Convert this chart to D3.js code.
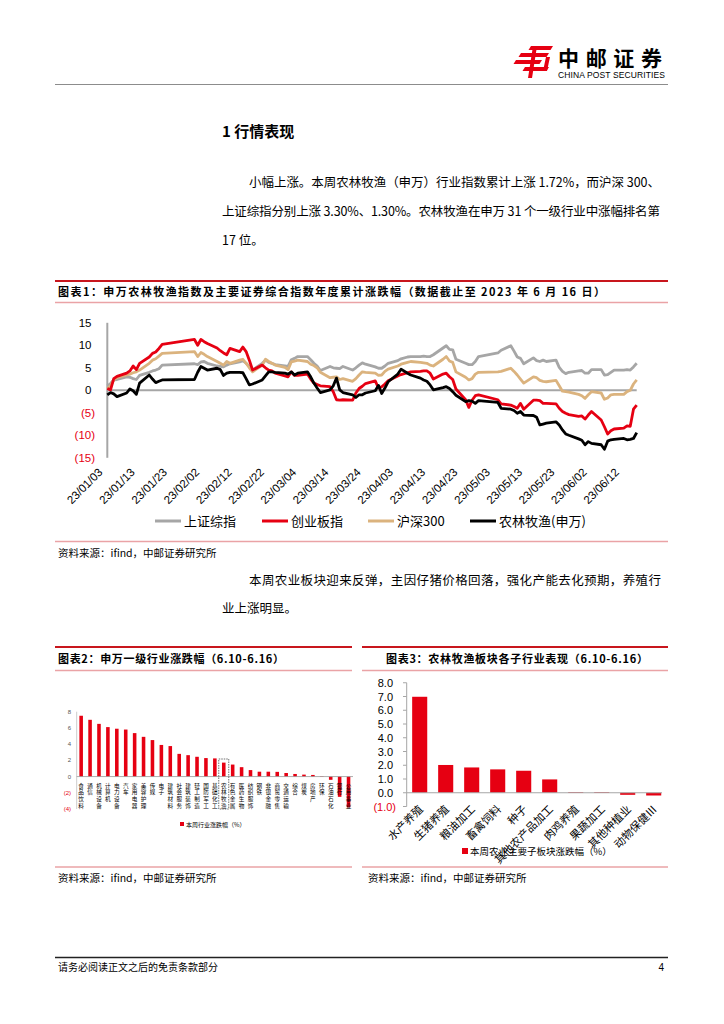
<!DOCTYPE html>
<html><head><meta charset="utf-8">
<script src="https://cdn.jsdelivr.net/npm/d3@7"></script>
<style>
html,body{margin:0;padding:0;background:#fff;}
svg{display:block;}
text{font-family:"Liberation Sans","Noto Sans CJK SC",sans-serif;}
</style></head><body>
<svg id="page" width="724" height="1024"></svg>
<script>
// ---------------- DATA ----------------
const tradeDates = [
"2023-01-03","2023-01-04","2023-01-05","2023-01-06","2023-01-09","2023-01-10","2023-01-11","2023-01-12","2023-01-13","2023-01-16","2023-01-17","2023-01-18","2023-01-19","2023-01-20","2023-01-30","2023-01-31",
"2023-02-01","2023-02-02","2023-02-03","2023-02-06","2023-02-07","2023-02-08","2023-02-09","2023-02-10","2023-02-13","2023-02-14","2023-02-15","2023-02-16","2023-02-17","2023-02-20","2023-02-21","2023-02-22","2023-02-23","2023-02-24","2023-02-27","2023-02-28",
"2023-03-01","2023-03-02","2023-03-03","2023-03-06","2023-03-07","2023-03-08","2023-03-09","2023-03-10","2023-03-13","2023-03-14","2023-03-15","2023-03-16","2023-03-17","2023-03-20","2023-03-21","2023-03-22","2023-03-23","2023-03-24","2023-03-27","2023-03-28","2023-03-29","2023-03-30","2023-03-31",
"2023-04-03","2023-04-04","2023-04-06","2023-04-07","2023-04-10","2023-04-11","2023-04-12","2023-04-13","2023-04-14","2023-04-17","2023-04-18","2023-04-19","2023-04-20","2023-04-21","2023-04-24","2023-04-25","2023-04-26","2023-04-27","2023-04-28",
"2023-05-04","2023-05-05","2023-05-08","2023-05-09","2023-05-10","2023-05-11","2023-05-12","2023-05-15","2023-05-16","2023-05-17","2023-05-18","2023-05-19","2023-05-22","2023-05-23","2023-05-24","2023-05-25","2023-05-26","2023-05-29","2023-05-30","2023-05-31",
"2023-06-01","2023-06-02","2023-06-05","2023-06-06","2023-06-07","2023-06-08","2023-06-09","2023-06-12","2023-06-13","2023-06-14","2023-06-15","2023-06-16"];

const shComposite = [
1.0,1.5,2.3,2.4,3.0,2.9,2.6,2.4,3.3,4.0,4.3,4.5,4.8,5.6,5.9,5.7,
6.3,6.4,6.0,5.4,5.3,5.2,5.6,5.9,6.3,6.6,6.0,5.3,4.5,6.0,6.7,6.2,6.0,5.7,5.4,5.3,
6.8,7.1,7.5,7.5,6.8,6.0,5.4,4.4,5.3,5.0,4.9,4.8,5.3,4.5,5.0,5.6,6.1,5.8,5.2,4.9,4.9,5.4,6.0,
6.6,7.0,7.4,7.5,7.5,7.6,7.5,7.5,7.9,9.4,9.9,9.1,9.0,6.9,6.0,5.7,5.7,6.4,7.5,
8.3,8.9,9.9,8.7,7.4,7.1,5.9,7.2,6.6,6.4,6.7,6.4,6.7,5.1,4.2,3.7,4.0,4.3,4.4,3.8,
3.8,4.6,4.6,3.4,3.5,4.0,4.5,4.5,4.6,4.5,5.2,6.0];

const chinext = [
0.4,0.1,2.6,3.1,3.8,4.3,5.4,4.6,6.0,7.4,8.2,8.5,9.3,10.2,11.3,10.0,
11.3,10.8,10.4,9.4,8.8,8.3,7.9,9.3,8.6,9.6,8.6,6.7,4.5,5.6,5.0,4.5,4.3,3.8,3.2,3.0,
4.1,3.3,3.3,3.6,2.5,1.6,1.3,1.0,0.8,-0.3,-2.1,-2.2,-2.1,-2.2,-0.6,0.4,0.9,1.5,2.1,0.5,0.8,1.4,2.1,
3.2,3.5,3.9,4.1,4.2,4.3,4.3,3.8,2.5,3.6,3.8,3.0,2.4,0.3,-2.1,-3.8,-2.2,-1.2,-1.0,
-2.1,-3.0,-3.3,-3.6,-4.0,-2.9,-4.2,-2.2,-2.2,-2.3,-2.9,-2.9,-3.0,-4.0,-4.7,-5.1,-5.4,-5.8,-5.7,-6.4,
-5.5,-4.7,-6.6,-8.1,-9.7,-9.0,-8.6,-8.4,-7.9,-8.0,-4.2,-3.3];

const csi300 = [
0.3,1.0,2.3,2.8,3.4,3.6,3.9,4.1,4.5,6.0,6.7,7.0,7.6,8.2,8.6,7.5,
8.4,8.0,7.5,6.4,6.0,5.6,6.4,6.0,6.7,6.9,6.0,5.0,4.1,5.6,6.9,6.4,6.0,5.6,5.1,4.6,
6.3,6.5,6.7,6.4,5.8,5.5,5.0,4.0,2.8,2.9,3.0,2.4,2.6,2.0,2.6,3.4,4.1,4.0,3.8,3.3,3.4,4.2,4.7,
5.4,5.8,6.2,6.4,6.2,6.1,6.0,5.6,5.4,6.9,7.5,6.5,6.2,4.1,2.9,2.3,2.6,3.6,4.0,
4.1,4.2,4.9,4.2,3.4,2.5,1.6,3.0,2.8,2.2,2.0,1.9,2.2,1.0,-0.2,-0.3,-0.4,-0.9,-1.2,-1.8,
-1.0,-0.3,-0.6,-2.0,-1.7,-1.0,-0.9,-0.9,-0.3,0.0,1.4,2.3];

const swAgri = [
-1.0,-0.5,-0.8,-1.4,-0.6,0.3,-0.1,-0.9,1.6,3.4,2.5,1.7,2.0,2.3,2.4,4.0,
5.3,4.9,4.5,4.9,4.6,3.3,3.8,4.0,4.0,3.9,2.6,1.2,1.4,2.3,3.2,4.1,4.1,4.0,3.8,3.6,
4.1,3.4,3.8,4.1,3.0,1.6,0.5,-0.5,0.1,1.0,2.7,0.1,-0.5,-1.0,-1.6,-1.0,-1.0,-0.6,-0.1,1.1,-0.7,0.5,1.9,
3.6,4.7,3.8,3.4,2.7,2.3,2.0,1.2,0.1,0.6,0.8,0.4,-0.3,-1.1,-2.5,-2.3,-2.4,-2.9,-2.3,
-2.7,-4.0,-4.2,-4.5,-5.1,-4.7,-5.5,-5.6,-6.0,-7.7,-7.5,-7.3,-7.0,-7.7,-8.8,-9.7,-10.0,-10.8,-11.1,-12.1,
-11.4,-11.8,-12.1,-13.1,-11.3,-11.0,-10.9,-10.7,-11.0,-10.9,-10.7,-9.4];

const seriesNames = ["上证综指","创业板指","沪深300","农林牧渔(申万)"];
const yTicks1 = [15,10,5,0,-5,-10,-15];
const xTickLabels1 = ["23/01/03","23/01/13","23/01/23","23/02/02","23/02/12","23/02/22","23/03/04","23/03/14","23/03/24","23/04/03","23/04/13","23/04/23","23/05/03","23/05/13","23/05/23","23/06/02","23/06/12"];

const industries = ["食品饮料","通信","机械设备","计算机","电力设备","汽车","家用电器","美容护理","传媒","电子","建筑材料","社会服务","建筑装饰","轻工制造","国防军工","基础化工","农林牧渔","有色金属","医药生物","纺织服饰","钢铁","非银金融","商贸零售","交通运输","综合","煤炭","房地产","环保","石油石化","银行","公用事业"];
const industryChange = [7.5,7.0,6.5,6.1,5.9,5.8,5.36,4.9,4.5,3.9,3.76,2.8,2.64,2.44,2.28,2.24,1.72,1.48,1.16,0.8,0.6,0.6,0.58,0.44,0.32,0.24,0.2,-0.05,-0.4,-2.5,-3.8];
const yTicks2 = [8,6,4,2,0,-2,-4];

const subSectors = ["水产养殖","生猪养殖","粮油加工","畜禽饲料","种子","其他农产品加工","肉鸡养殖","果蔬加工","其他种植业","动物保健Ⅲ"];
const subSectorChange = [6.98,2.02,1.84,1.70,1.60,0.97,0.05,0.05,-0.15,-0.20];
const yTicks3 = [8,7,6,5,4,3,2,1,0,-1];

// ---------------- PAGE ----------------
const svg = d3.select("#page");
const RED = "#e60012", PINK = "#eaa3a6", GRAY = "#a6a6a6", GOLD = "#dbb37e";
const CJK = "'Noto Sans CJK SC','Liberation Sans',sans-serif";

function hline(x1,x2,y,color,w){ svg.append("line").attr("x1",x1).attr("x2",x2).attr("y1",y).attr("y2",y).attr("stroke",color).attr("stroke-width",w); }
function txt(x,y,s,opt={}){
  const t = svg.append("text").attr("x",x).attr("y",y).text(s)
    .attr("font-size",opt.size||12).attr("fill",opt.fill||"#000")
    .attr("font-weight",opt.weight||400).attr("text-anchor",opt.anchor||"start");
  if(opt.cjk) t.style("font-family",CJK);
  if(opt.len){ t.attr("textLength",opt.len).attr("lengthAdjust","spacing"); }
  return t;
}

// Header logo
const logo = svg.append("g").attr("fill","#e60012");
[[ [531,46],[553,46],[550.5,50],[528.5,50] ],
 [ [521,53],[549,53],[546.5,57],[518.5,57] ],
 [ [516,60],[542,60],[539.5,64],[513.5,64] ],
 [ [525,67],[549,67],[546.5,71],[522.5,71] ],
 [ [533,46],[537,46],[532,78],[528,78] ],
 [ [546,57],[550,57],[547,71],[543,71] ]
].forEach(p=>logo.append("polygon").attr("points",p.map(q=>q.join(",")).join(" ")));
txt(558,66,"中邮证券",{size:21,weight:700,cjk:true,len:104});
txt(558,78,"CHINA POST SECURITIES",{size:8.5,len:107});
hline(55,668,84.5,"#8c8c8c",1);

// Section heading & paragraph
txt(222,137,"1  行情表现",{size:15,weight:700,cjk:true});
txt(249,187,"小幅上涨。本周农林牧渔（申万）行业指数累计上涨 1.72%，而沪深 300、",{size:12.5,cjk:true,len:411});
txt(222,216,"上证综指分别上涨 3.30%、1.30%。农林牧渔在申万 31 个一级行业中涨幅排名第",{size:12.5,cjk:true,len:438});
txt(222,245,"17 位。",{size:12.5,cjk:true});

// Chart 1 header
hline(55,668,281,"#c8161d",2);
txt(58,295.5,"图表1：申万农林牧渔指数及主要证券综合指数年度累计涨跌幅（数据截止至 2023 年 6 月 16 日）",{size:11,weight:700,cjk:true,len:547});
hline(55,668,302.5,PINK,1.5);

// Chart 1 plot
const parseD = d3.timeParse("%Y-%m-%d");
const dates = tradeDates.map(parseD);
const x1 = d3.scaleTime().domain([parseD("2023-01-03"),parseD("2023-06-16")]).range([107.3,636.7]);
const y1 = d3.scaleLinear().domain([-15,15]).range([457.8,322.8]);
const c1 = svg.append("g");
c1.append("line").attr("x1",x1.range()[0]).attr("x2",x1.range()[0]).attr("y1",y1(15)).attr("y2",y1(-15)).attr("stroke",GRAY).attr("stroke-width",2);
c1.append("line").attr("x1",x1.range()[0]).attr("x2",x1.range()[1]).attr("y1",y1(0)).attr("y2",y1(0)).attr("stroke",GRAY).attr("stroke-width",2);
yTicks1.forEach(v=>{
  c1.append("text").attr("x", v<0?95:91.5).attr("y",y1(v)+4).attr("text-anchor","end")
    .attr("font-size",11.5).attr("fill",v<0?RED:"#000").text(v<0?`(${-v})`:v);
});
const pTick = d3.timeParse("%y/%m/%d");
xTickLabels1.forEach(s=>{
  const xx = x1(pTick(s));
  c1.append("text").attr("transform",`translate(${xx-4},${473}) rotate(-45)`).attr("text-anchor","end")
    .attr("font-size",11.5).attr("fill","#000").text(s);
});
const allSeries = [
  {name:seriesNames[0], vals:shComposite, color:GRAY},
  {name:seriesNames[2], vals:csi300, color:GOLD},
  {name:seriesNames[1], vals:chinext, color:RED},
  {name:seriesNames[3], vals:swAgri, color:"#000"}];
const line1 = d3.line().x(d=>x1(d[0])).y(d=>y1(d[1]));
allSeries.forEach(s=>{
  c1.append("path").attr("d",line1(dates.map((d,i)=>[d,s.vals[i]])))
    .attr("fill","none").attr("stroke",s.color).attr("stroke-width",2.8).attr("stroke-linejoin","round");
});
// legend
const leg1 = [
  {name:seriesNames[0],color:GRAY,x:155},
  {name:seriesNames[1],color:RED,x:262},
  {name:seriesNames[2],color:GOLD,x:368},
  {name:seriesNames[3],color:"#000",x:470}];
leg1.forEach(l=>{
  c1.append("line").attr("x1",l.x).attr("x2",l.x+26).attr("y1",521).attr("y2",521).attr("stroke",l.color).attr("stroke-width",3);
  c1.append("text").attr("x",l.x+29).attr("y",526).attr("font-size",13).style("font-family",CJK).text(l.name);
});
hline(55,668,541.5,PINK,1.5);
txt(58,557,"资料来源：ifind，中邮证券研究所",{size:10.5,cjk:true});

txt(249,585,"本周农业板块迎来反弹，主因仔猪价格回落，强化产能去化预期，养殖行",{size:12.5,cjk:true,len:412});
txt(222,613,"业上涨明显。",{size:12.5,cjk:true});

// Chart 2 & 3 headers
hline(55,352,647,"#c8161d",2);
hline(362,668,647,"#c8161d",2);
txt(58,663,"图表2：申万一级行业涨跌幅（6.10-6.16）",{size:11,weight:700,cjk:true,len:226});
txt(386,663,"图表3：农林牧渔板块各子行业表现（6.10-6.16）",{size:11,weight:700,cjk:true,len:262});
hline(55,352,670.5,PINK,1.5);
hline(362,668,670.5,PINK,1.5);

// Chart 2
const x2 = d3.scaleBand().domain(industries).range([76.7,353]).paddingInner(0.6).paddingOuter(0.3);
const y2 = d3.scaleLinear().domain([-4,8]).range([809,711.7]);
const c2 = svg.append("g");
c2.append("line").attr("x1",76.7).attr("x2",76.7).attr("y1",y2(8)).attr("y2",y2(-4)).attr("stroke","#bfbfbf").attr("stroke-width",0.8);
yTicks2.forEach(v=>{
  c2.append("text").attr("x",71).attr("y",y2(v)+2).attr("text-anchor","end").attr("font-size",6)
    .attr("fill",v<0?RED:"#555").text(v<0?`(${-v})`:v);
});
c2.selectAll("rect.b").data(industries).enter().append("rect")
  .attr("x",d=>x2(d)).attr("width",x2.bandwidth())
  .attr("y",(d,i)=>y2(Math.max(0,industryChange[i])))
  .attr("height",(d,i)=>Math.abs(y2(industryChange[i])-y2(0)))
  .attr("fill",RED);
c2.append("line").attr("x1",76.7).attr("x2",353).attr("y1",y2(0)).attr("y2",y2(0)).attr("stroke","#999").attr("stroke-width",0.8);
industries.forEach(name=>{
  const cx = x2(name)+x2.bandwidth()/2;
  const t = c2.append("text").attr("font-size",5.6).attr("text-anchor","middle").style("font-family",CJK);
  Array.from(name).forEach((ch,k)=>t.append("tspan").attr("x",cx).attr("y",787.5+k*6.8).text(ch));
});
{
  const cx = x2("农林牧渔")+x2.bandwidth()/2;
  c2.append("rect").attr("x",cx-5).attr("y",759).attr("width",10).attr("height",50)
    .attr("fill","none").attr("stroke","#333").attr("stroke-width",0.7).attr("stroke-dasharray","1.5,1");
}
c2.append("rect").attr("x",180).attr("y",822).attr("width",4).attr("height",4).attr("fill",RED);
c2.append("text").attr("x",186).attr("y",826.5).attr("font-size",6).style("font-family",CJK).text("本周行业涨跌幅（%）");

// Chart 3
const x3 = d3.scaleBand().domain(subSectors).range([406.7,666.7]).paddingInner(0.42).paddingOuter(0.21);
const y3 = d3.scaleLinear().domain([-1,8]).range([806.5,682.75]);
const c3 = svg.append("g");
c3.append("line").attr("x1",406.7).attr("x2",406.7).attr("y1",y3(8)).attr("y2",y3(-1)).attr("stroke","#a6a6a6").attr("stroke-width",1);
yTicks3.forEach(v=>{
  c3.append("line").attr("x1",403).attr("x2",406.7).attr("y1",y3(v)).attr("y2",y3(v)).attr("stroke","#a6a6a6").attr("stroke-width",1);
  c3.append("text").attr("x",v<0?396:393).attr("y",y3(v)+4).attr("text-anchor","end").attr("font-size",11)
    .attr("fill",v<0?RED:"#000").text(v<0?`(${(-v).toFixed(1)})`:v.toFixed(1));
});
c3.selectAll("rect.b").data(subSectors).enter().append("rect")
  .attr("x",d=>x3(d)).attr("width",x3.bandwidth())
  .attr("y",(d,i)=>y3(Math.max(0,subSectorChange[i])))
  .attr("height",(d,i)=>Math.abs(y3(subSectorChange[i])-y3(0)))
  .attr("fill",RED);
c3.append("line").attr("x1",406.7).attr("x2",662).attr("y1",y3(0)).attr("y2",y3(0)).attr("stroke","#a6a6a6").attr("stroke-width",1);
subSectors.forEach(name=>{
  const cx = x3(name)+x3.bandwidth()/2;
  c3.append("text").attr("transform",`translate(${cx+4},${810}) rotate(-45)`).attr("text-anchor","end")
    .attr("font-size",11).style("font-family",CJK).text(name);
});
c3.append("rect").attr("x",462).attr("y",848).attr("width",6).attr("height",6).attr("fill",RED);
c3.append("text").attr("x",470).attr("y",855).attr("font-size",9.5).style("font-family",CJK).text("本周农业主要子板块涨跌幅（%）");

hline(55,352,867,PINK,1.5);
hline(362,668,867,PINK,1.5);
txt(58,882,"资料来源：ifind，中邮证券研究所",{size:10.5,cjk:true});
txt(368,882,"资料来源：ifind，中邮证券研究所",{size:10.5,cjk:true});

// Footer
hline(55,668,957.5,"#222",1.5);
txt(58,971,"请务必阅读正文之后的免责条款部分",{size:10,cjk:true});
txt(664,971,"4",{size:10,anchor:"end"});
</script>
</body></html>
